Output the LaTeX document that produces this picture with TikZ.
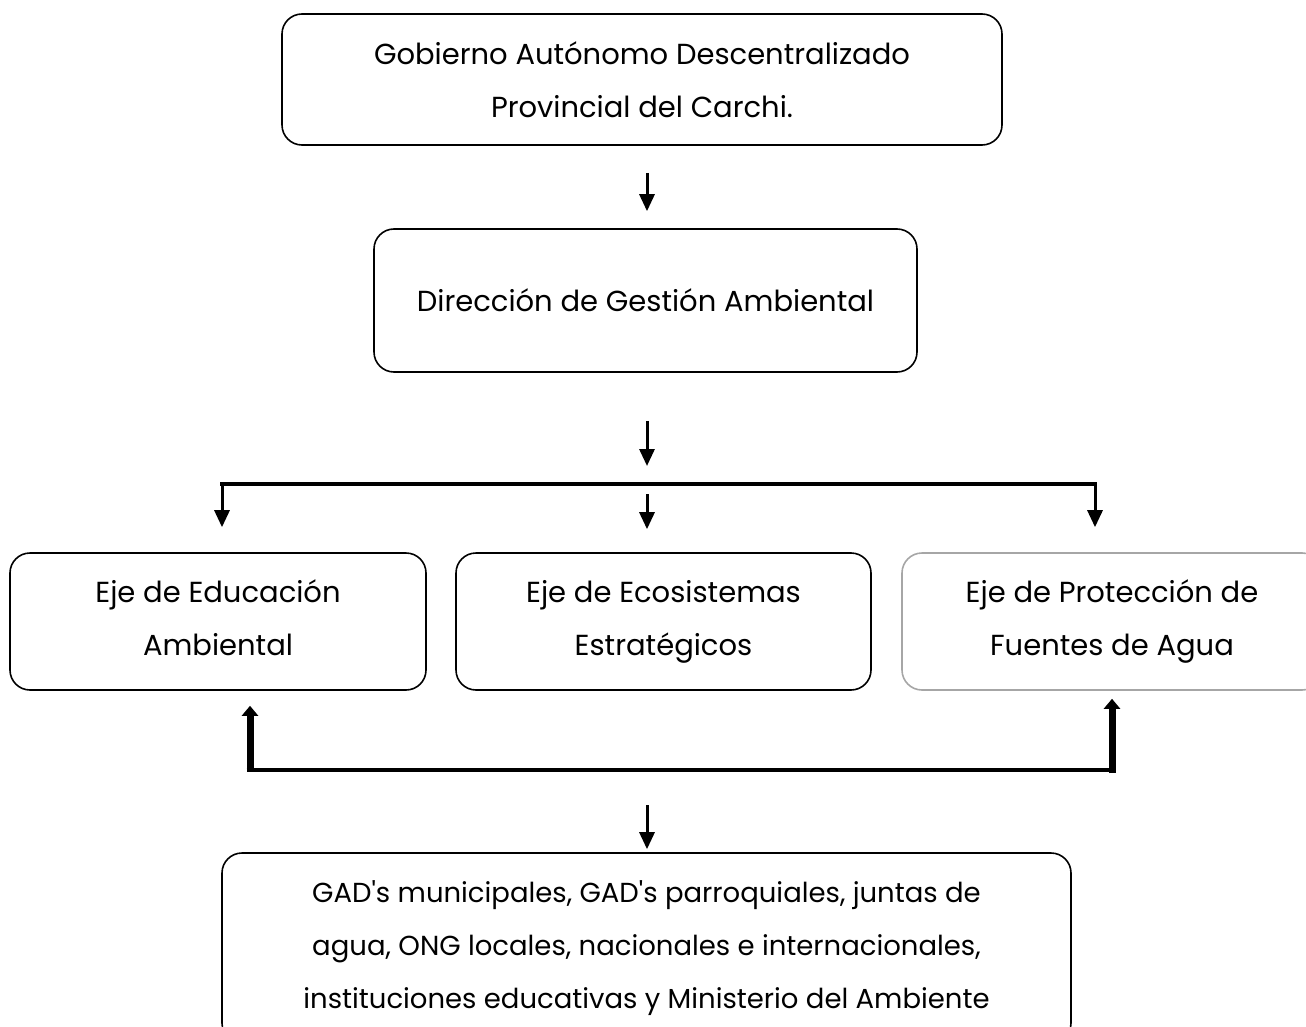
\documentclass[tikz,border=0pt]{standalone}
\usepackage{fontspec}
\setmainfont{Poppins}
\usepackage{xcolor}
\usetikzlibrary{arrows.meta, positioning}

\begin{document}
\begin{tikzpicture}[
    x=1pt, y=-1pt,
    box/.style = {draw, line width=1.6pt, rounded corners=20pt, align=center,
                  inner sep=0pt, font=\fontsize{29}{53}\selectfont},
    downarrow/.style = {line width=3pt, -{Triangle[length=17pt, width=15pt]}},
    uparrow/.style = {line width=7pt, -{Triangle[length=10pt, width=16pt]}},
    bar/.style = {line width=4pt},
                    ]
    \useasboundingbox (0,0) rectangle (1306,1027);
    \node (gob) [box, minimum width=720, minimum height=131] at (642,79.5)
          {Gobierno Autónomo Descentralizado\\Provincial del Carchi.};
    \node (dir) [box, minimum width=543, minimum height=143] at (645.5,300.5)
          {Dirección de Gestión Ambiental};
    \node (edu) [box, minimum width=416, minimum height=137] at (218,621.5)
          {Eje de Educación\\Ambiental\vphantom{g}};
    \node (eco) [box, minimum width=415, minimum height=137] at (663.5,621.5)
          {Eje de Ecosistemas\\Estratégicos};
    \node (agua) [box, draw=gray!70, minimum width=420, minimum height=137] at (1112,621.5)
          {Eje de Protección de\\Fuentes de Agua};
    \node (gad) [box, minimum width=849, minimum height=190, font=\fontsize{27.5}{53}\selectfont] at (646.5,948)
          {GAD\textquotesingle s municipales, GAD\textquotesingle s parroquiales, juntas de\\agua, ONG locales, nacionales e internacionales,\\instituciones educativas y Ministerio del Ambiente};
    % branching bar
    \coordinate (split) at (647,484);
    \coordinate (bl) at (222,484);
    \coordinate (br) at (1095,484);
    \coordinate (bm) at (647,494);
    % joining bar
    \coordinate (jl) at (250,770);
    \coordinate (jr) at (1112,770);
    \coordinate (jm) at (647,805);
    \draw [downarrow, shorten <=27pt, shorten >=17pt] (gob.south -| split) -- (dir.north -| split);
    \draw [downarrow, shorten <=48pt, shorten >=18pt] (dir.south -| split) -- (split);
    \draw [bar] ([xshift=-2pt]bl) -- ([xshift=2pt]br);
    \draw [downarrow, shorten >=25pt] (bl) -- (bl |- edu.north);
    \draw [downarrow, shorten >=23pt] (bm) -- (bm |- eco.north);
    \draw [downarrow, shorten >=25pt] (br) -- (br |- agua.north);
    \draw [bar] ([xshift=-3.5pt]jl) -- ([xshift=3.5pt]jr);
    \draw [uparrow, shorten >=15pt] ([yshift=2pt]jl) -- (jl |- edu.south);
    \draw [uparrow, shorten >=8pt] ([yshift=-3pt]jr) -- (jr |- agua.south);
    \draw [downarrow, shorten >=3pt] (jm) -- (gad.north -| jm);
\end{tikzpicture}
\end{document}
